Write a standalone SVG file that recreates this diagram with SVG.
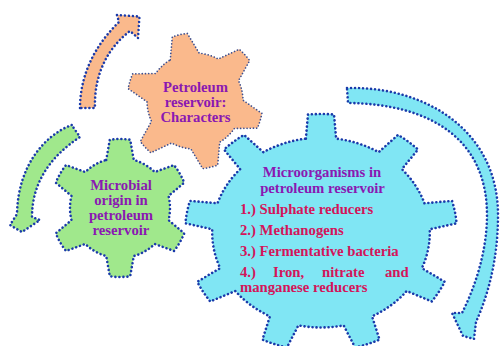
<svg xmlns="http://www.w3.org/2000/svg" width="503" height="346" viewBox="0 0 503 346">
<style>
.dot{stroke:#1a3aaa;stroke-width:2.6;stroke-dasharray:0.01 4;stroke-linecap:round;stroke-linejoin:round}
.dotthin{stroke:#3d4f8f;stroke-width:1.7;stroke-dasharray:0.01 3.2;stroke-linecap:round;stroke-linejoin:round}
.orange{fill:#fab98c}
.green{fill:#a0e88c}
.cyan{fill:#80e6f4}
text{font-family:"Liberation Serif","Times New Roman",serif;font-weight:bold;font-size:14.7px}
.pur{fill:#8a18b2}
.pink{fill:#d4145a}
.c{text-anchor:middle}
</style>
<rect width="503" height="346" fill="#ffffff"/>
<g id="connectors">
<path id="arrow-orange" class="orange dot" d="M 80,108 C 80,75 95,45 119,22 L 117,15 L 139.5,16.5 L 138,38 L 130,31 C 105,50 94,78 95,108 Z"/>
<path id="arrow-green" class="green dot" d="M 71.7,125 C 45,135 18,165 17,214 L 10,225 L 22,232 L 40,220 L 32,217 C 32,185 48,158 80,137 Z"/>
<path id="arrow-cyan" class="cyan dot" d="M 347,88 C 425,86 498,130 498,215 C 498,260 488,295 476,322 L 474,339 L 463,336 L 452,313 L 462,313 C 476,285 487,250 487,215 C 487,140 432,104 348,103 Z"/>
</g>
<g id="node-petroleum-characters">
<path class="orange dotthin" d="M 170.28,59.85 L 172.30,36.90 A 68 68 0 0 1 187.30,33.44 L 199.19,53.18 A 48 48 0 0 1 218.27,59.02 L 239.16,49.29 A 68 68 0 0 1 249.67,60.55 L 238.50,80.72 A 48 48 0 0 1 242.99,100.16 L 261.86,113.39 A 68 68 0 0 1 257.36,128.11 L 234.32,128.53 A 48 48 0 0 1 219.72,142.15 L 217.70,165.10 A 68 68 0 0 1 202.70,168.56 L 190.81,148.82 A 48 48 0 0 1 171.73,142.98 L 150.84,152.71 A 68 68 0 0 1 140.33,141.45 L 151.50,121.28 A 48 48 0 0 1 147.01,101.84 L 128.14,88.61 A 68 68 0 0 1 132.64,73.89 L 155.68,73.47 A 48 48 0 0 1 170.28,59.85 Z"/>
<text class="pur c" x="195.5" y="92">Petroleum</text>
<text class="pur c" x="195.5" y="107">reservoir:</text>
<text class="pur c" x="195.5" y="122">Characters</text>
</g>
<g id="node-microbial-origin">
<path class="green dot" d="M 106.22,159.93 L 109.80,139.76 A 69 69 0 0 1 130.20,139.76 L 133.78,159.93 A 50 50 0 0 1 154.74,172.03 L 174.00,165.05 A 69 69 0 0 1 184.20,182.71 L 168.52,195.90 A 50 50 0 0 1 168.52,220.10 L 184.20,233.29 A 69 69 0 0 1 174.00,250.95 L 154.74,243.97 A 50 50 0 0 1 133.78,256.07 L 130.20,276.24 A 69 69 0 0 1 109.80,276.24 L 106.22,256.07 A 50 50 0 0 1 85.26,243.97 L 66.00,250.95 A 69 69 0 0 1 55.80,233.29 L 71.48,220.10 A 50 50 0 0 1 71.48,195.90 L 55.80,182.71 A 69 69 0 0 1 66.00,165.05 L 85.26,172.03 A 50 50 0 0 1 106.22,159.93 Z"/>
<text class="pur c" x="121" y="189.5">Microbial</text>
<text class="pur c" x="121" y="204.5">origin in</text>
<text class="pur c" x="121" y="219.5">petroleum</text>
<text class="pur c" x="121" y="234.5">reservoir</text>
</g>
<g id="node-microorganisms">
<path class="cyan dot" d="M 305.86,138.64 L 307.97,114.55 A 136 118.6 0 0 1 334.03,114.55 L 336.14,138.64 A 108.8 94.88 0 0 1 378.65,152.14 L 398.03,134.86 A 136 118.6 0 0 1 418.01,149.47 L 401.85,169.12 A 108.8 94.88 0 0 1 424.48,203.28 L 452.05,200.91 A 136 118.6 0 0 1 456.58,223.29 L 429.73,229.29 A 108.8 94.88 0 0 1 421.88,268.14 L 444.76,281.78 A 136 118.6 0 0 1 431.72,301.47 L 406.73,291.02 A 108.8 94.88 0 0 1 372.08,316.37 L 379.55,339.65 A 136 118.6 0 0 1 355.05,347.42 L 343.62,325.40 A 108.8 94.88 0 0 1 298.38,325.40 L 286.95,347.42 A 136 118.6 0 0 1 262.45,339.65 L 269.92,316.37 A 108.8 94.88 0 0 1 235.27,291.02 L 210.28,301.47 A 136 118.6 0 0 1 197.24,281.78 L 220.12,268.14 A 108.8 94.88 0 0 1 212.27,229.29 L 185.42,223.29 A 136 118.6 0 0 1 189.95,200.91 L 217.52,203.28 A 108.8 94.88 0 0 1 240.15,169.12 L 223.99,149.47 A 136 118.6 0 0 1 243.97,134.86 L 263.35,152.14 A 108.8 94.88 0 0 1 305.86,138.64 Z"/>
<text class="pur c" x="322" y="177">Microorganisms in</text>
<text class="pur c" x="322.5" y="193">petroleum reservoir</text>
<text class="pink" x="240" y="213.5">1.) Sulphate reducers</text>
<text class="pink" x="240" y="234.5">2.) Methanogens</text>
<text class="pink" x="240" y="255.5">3.) Fermentative bacteria</text>
<text class="pink" y="277"><tspan x="240">4.)</tspan><tspan x="273">Iron,</tspan><tspan x="322">nitrate</tspan><tspan x="385">and</tspan></text>
<text class="pink" x="240" y="292">manganese reducers</text>
</g>
</svg>
